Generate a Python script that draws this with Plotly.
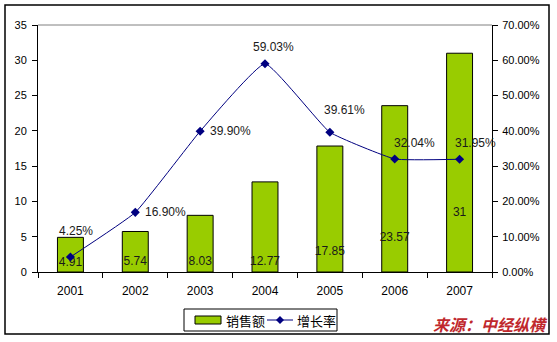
import plotly.graph_objects as go

years = ["2001", "2002", "2003", "2004", "2005", "2006", "2007"]
sales = [4.91, 5.74, 8.03, 12.77, 17.85, 23.57, 31]
growth = [0.0425, 0.1690, 0.3990, 0.5903, 0.3961, 0.3204, 0.3195]
growth_labels = ["4.25%", "16.90%", "39.90%", "59.03%", "39.61%", "32.04%", "31.95%"]
sales_labels = ["4.91", "5.74", "8.03", "12.77", "17.85", "23.57", "31"]

# label placement (layout only)
bar_label_y = [1.28, 1.42, 1.42, 1.42, 2.83, 4.8, 8.35]
growth_label_shift = [(6, 26), (30, 0), (30, 0), (8, 17), (15, 22), (20, 16), (16, 16)]

W, H = 557, 342
px = lambda v: v / W
py = lambda v: (H - v) / H

L, R, T, B = 38, 492, 25, 272
font = "Liberation Sans, Arial, sans-serif"
cjk = "Noto Sans CJK SC, sans-serif"

fig = go.Figure()
fig.add_trace(go.Bar(
    x=years, y=sales, name="销售额",
    marker=dict(color="#99CC00", line=dict(color="#000000", width=1)),
    yaxis="y", showlegend=False,
))
fig.add_trace(go.Scatter(
    x=years, y=bar_label_y, mode="text", text=sales_labels,
    textfont=dict(size=12, color="#1a1a1a", family=font),
    showlegend=False, hoverinfo="skip", yaxis="y",
))
fig.add_trace(go.Scatter(
    x=years, y=growth, name="增长率", yaxis="y2",
    mode="lines+markers", showlegend=False,
    line=dict(color="#000080", width=1, shape="spline", smoothing=0.35),
    marker=dict(symbol="diamond", size=7, color="#000080"),
))

annotations = []
for i, (g, lab, (dx, dy)) in enumerate(zip(growth, growth_labels, growth_label_shift)):
    annotations.append(dict(
        x=i, y=g, xref="x", yref="y2", text=lab, showarrow=False,
        xshift=dx, yshift=dy, font=dict(size=12, color="#1a1a1a", family=font),
    ))

# source
annotations.append(dict(
    text="<b><i>来源：中经纵横</i></b>", xref="paper", yref="paper",
    x=px(550), y=py(338), xanchor="right", yanchor="bottom",
    showarrow=False, font=dict(size=16, color="#C0282D", family=cjk)))

# manual legend text
annotations.append(dict(text="销售额", xref="paper", yref="paper", x=px(224), y=py(320),
                        xanchor="left", yanchor="middle", showarrow=False,
                        font=dict(size=13, color="#000000", family=cjk)))
annotations.append(dict(text="增长率", xref="paper", yref="paper", x=px(295), y=py(320),
                        xanchor="left", yanchor="middle", showarrow=False,
                        font=dict(size=13, color="#000000", family=cjk)))

dcx, dcy = 280, 320
diamond = (f"M {px(dcx-4)} {py(dcy)} L {px(dcx)} {py(dcy-4)} "
           f"L {px(dcx+4)} {py(dcy)} L {px(dcx)} {py(dcy+4)} Z")

shapes = [
    dict(type="line", xref="paper", yref="paper", x0=px(L), x1=px(R),
         y0=py(T), y1=py(T), line=dict(color="#808080", width=1)),
    dict(type="rect", xref="paper", yref="paper", x0=px(5), x1=px(549),
         y0=py(334), y1=py(5), line=dict(color="#000000", width=1.5)),
    # legend box
    dict(type="rect", xref="paper", yref="paper", x0=px(184), x1=px(337),
         y0=py(331), y1=py(309), line=dict(color="#000000", width=1),
         fillcolor="white"),
    dict(type="rect", xref="paper", yref="paper", x0=px(195), x1=px(221),
         y0=py(324), y1=py(316), line=dict(color="#000000", width=1),
         fillcolor="#99CC00"),
    dict(type="line", xref="paper", yref="paper", x0=px(267), x1=px(293),
         y0=py(320), y1=py(320), line=dict(color="#000080", width=1)),
    dict(type="path", xref="paper", yref="paper", path=diamond,
         fillcolor="#000080", line=dict(color="#000080", width=0)),
]

fig.update_layout(
    width=W, height=H, autosize=False,
    margin=dict(l=0, r=0, t=0, b=0, pad=0),
    paper_bgcolor="white", plot_bgcolor="white",
    font=dict(family=font, size=11, color="#000000"),
    bargap=0.6, showlegend=False,
    xaxis=dict(
        type="category", categoryorder="array", categoryarray=years,
        range=[-0.5, len(years) - 0.5],
        domain=[px(L), px(R)], showgrid=False, showline=True, automargin=False,
        linecolor="#000000", linewidth=1, ticks="outside", tickson="boundaries",
        ticklen=5, tickcolor="#000000", tickfont=dict(size=12), tickangle=0,
        ticklabelstandoff=8, anchor="y",
    ),
    yaxis=dict(
        domain=[py(B), py(T)], range=[0, 35], dtick=5, showgrid=False,
        automargin=False,
        showline=True, linecolor="#000000", linewidth=1, ticks="outside",
        ticklen=5, tickcolor="#000000", zeroline=False, tickfont=dict(size=11),
        ticklabelstandoff=3,
    ),
    yaxis2=dict(
        overlaying="y", side="right", range=[0, 0.7], dtick=0.1, automargin=False,
        tickformat=".2%", showgrid=False, showline=True, linecolor="#000000",
        linewidth=1, ticks="outside", ticklen=5, tickcolor="#000000",
        zeroline=False, tickfont=dict(size=11), anchor="x", ticklabelstandoff=2,
    ),
    shapes=shapes,
    annotations=annotations,
)

fig.write_html("out.html")
